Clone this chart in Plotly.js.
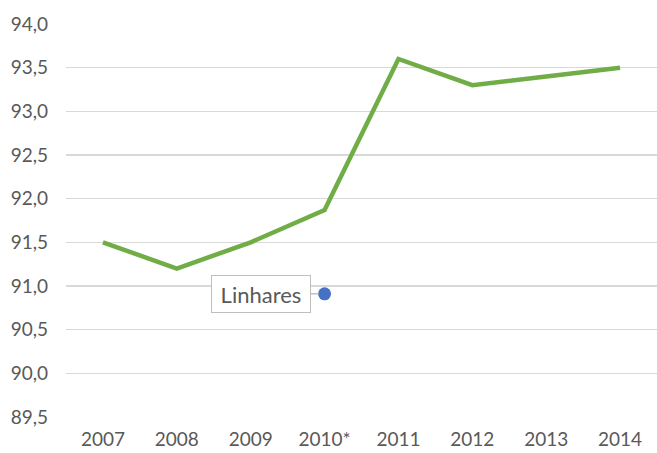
<!DOCTYPE html>
<html>
<head>
<meta charset="utf-8">
<script src="https://cdn.plot.ly/plotly-3.0.1.min.js"></script>
<style>html,body{margin:0;padding:0;background:#fff;}#chart{width:657px;height:453px;}</style>
</head>
<body>
<div id="chart"></div>
<script>
const years = ["2007", "2008", "2009", "2010*", "2011", "2012", "2013", "2014"];
const values = [91.5, 91.2, 91.5, 91.87, 93.6, 93.3, 93.4, 93.5];
const pointYear = ["2010*"];
const pointValue = [90.91];
const pointLabel = "Linhares";
const yTicks = [89.5, 90.0, 90.5, 91.0, 91.5, 92.0, 92.5, 93.0, 93.5, 94.0];
const yTickText = yTicks.map(v => v.toFixed(1).replace(".", ","));

const traces = [
  {
    x: years, y: values, type: "scatter", mode: "lines",
    line: {color: "#70AD47", width: 4.5},
    hoverinfo: "skip"
  },
  {
    x: pointYear, y: pointValue, type: "scatter", mode: "markers",
    marker: {color: "#4472C4", size: 13},
    hoverinfo: "skip"
  }
];

const layout = {
  width: 657, height: 453,
  margin: {l: 66, r: 0, t: 24, b: 36},
  paper_bgcolor: "#ffffff", plot_bgcolor: "#ffffff",
  showlegend: false,
  font: {family: "Lato, 'Noto Sans', sans-serif", color: "#595959", size: 19},
  xaxis: {
    type: "category", categoryorder: "array", categoryarray: years,
    range: [-0.5, 7.5],
    showgrid: false, zeroline: false, showline: false,
    ticks: "", tickfont: {size: 19, color: "#595959"}, ticklabelstandoff: 9
  },
  yaxis: {
    range: [89.5, 94.0],
    tickvals: yTicks, ticktext: yTickText,
    showgrid: true, gridcolor: "#D9D9D9", gridwidth: 1.3,
    zeroline: false, showline: false, ticks: "",
    tickfont: {size: 19, color: "#595959"}, ticklabelstandoff: 17
  },
  annotations: [{
    x: pointYear[0], y: pointValue[0], xref: "x", yref: "y",
    text: pointLabel,
    showarrow: true, arrowhead: 0, arrowwidth: 1.5, arrowcolor: "#BFBFBF",
    ax: -64, ay: 0, standoff: 6,
    bordercolor: "#BFBFBF", borderwidth: 1, borderpad: 5,
    bgcolor: "#ffffff",
    width: 88, height: 26,
    font: {size: 22, color: "#595959", family: "Lato, 'Noto Sans', sans-serif"}
  }]
};

Plotly.newPlot("chart", traces, layout, {displayModeBar: false, staticPlot: true});
</script>
</body>
</html>
